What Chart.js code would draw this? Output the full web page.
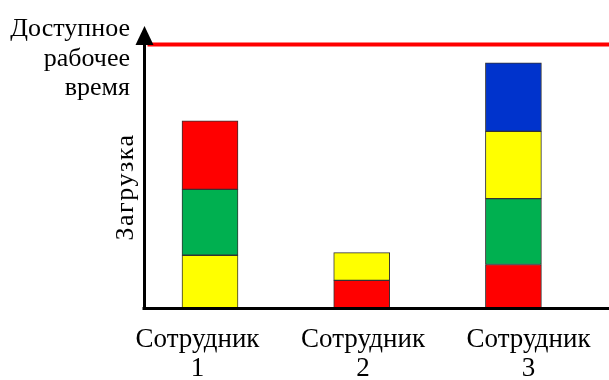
<!DOCTYPE html>
<html>
<head>
<meta charset="utf-8">
<script src="https://cdn.jsdelivr.net/npm/chart.js@4/dist/chart.umd.min.js"></script>
<style>
  html, body { margin: 0; padding: 0; background: #fff; }
  #wrap { width: 609px; height: 380px; }
</style>
</head>
<body>
<div id="wrap"><canvas id="chart" width="609" height="380"></canvas></div>
<script>
// Workload per employee, bottom segment first
const employees = [['Сотрудник', '1'], ['Сотрудник', '2'], ['Сотрудник', '3']];
const employee1Load = [20, 25, 26];
const employee2Load = [10.5, 10.5];
const employee3Load = [16.5, 25, 25.5, 26];
const availableTime = 100;
const availableLabel = ['Доступное', 'рабочее', 'время'];
const axisTitle = 'Загрузка';

// Segment colours, bottom segment first
const RED = '#FF0000', GREEN = '#00B050', YELLOW = '#FFFF00', BLUE = '#0033CC';
const employee1Colors = [YELLOW, GREEN, RED];
const employee2Colors = [RED, YELLOW];
const employee3Colors = [RED, GREEN, YELLOW, BLUE];

const loads = [employee1Load, employee2Load, employee3Load];
const colors = [employee1Colors, employee2Colors, employee3Colors];
const layerCount = Math.max(...loads.map(l => l.length));

// One stacked dataset per layer of the columns
const datasets = [];
for (let layer = 0; layer < layerCount; layer++) {
  datasets.push({
    label: 'Слой ' + (layer + 1),
    xAxisID: 'xBars',
    data: loads.map((l, i) => ({ x: i + 1, y: l[layer] !== undefined ? l[layer] : null })),
    backgroundColor: colors.map(c => c[layer] || 'transparent'),
    borderColor: '#333333',
    borderWidth: 1,
    borderSkipped: false,
    barThickness: 56
  });
}

const SERIF = "'Liberation Serif', 'Times New Roman', serif";

// Axes with an arrow, the available-time line and the free-standing labels
const decorations = {
  id: 'decorations',
  afterDatasetsDraw(chart) {
    const { ctx, chartArea } = chart;
    const y = chart.scales.y;
    const x0 = chartArea.left + 0.5;
    const yBase = chartArea.bottom + 0.5;
    const yLimit = y.getPixelForValue(availableTime);
    ctx.save();

    // available working time
    ctx.strokeStyle = '#FF0000';
    ctx.lineWidth = 4;
    ctx.beginPath();
    ctx.moveTo(x0 + 3, yLimit);
    ctx.lineTo(chart.width, yLimit);
    ctx.stroke();

    // x axis
    ctx.strokeStyle = '#000';
    ctx.lineWidth = 3;
    ctx.beginPath();
    ctx.moveTo(x0 - 2, yBase);
    ctx.lineTo(chart.width, yBase);
    ctx.stroke();

    // y axis with arrow head
    ctx.beginPath();
    ctx.moveTo(x0, yBase + 1.5);
    ctx.lineTo(x0, chartArea.top + 16);
    ctx.stroke();
    ctx.fillStyle = '#000';
    ctx.beginPath();
    ctx.moveTo(x0, chartArea.top);
    ctx.lineTo(x0 - 9, chartArea.top + 19);
    ctx.lineTo(x0 + 9, chartArea.top + 19);
    ctx.closePath();
    ctx.fill();

    // label of the limit line
    ctx.font = '26px ' + SERIF;
    ctx.textAlign = 'right';
    ctx.textBaseline = 'alphabetic';
    availableLabel.forEach((t, i) => ctx.fillText(t, 130, 36 + i * 29.5));

    // vertical axis title
    ctx.translate(133, 187);
    ctx.rotate(-Math.PI / 2);
    ctx.textAlign = 'center';
    ctx.letterSpacing = '1.5px';
    ctx.fillText(axisTitle, 0, 0);
    ctx.restore();
  }
};

new Chart(document.getElementById('chart'), {
  type: 'bar',
  data: { datasets },
  options: {
    responsive: false,
    animation: false,
    devicePixelRatio: 1,
    layout: { padding: { left: 144, top: 26, right: 0, bottom: 0 } },
    plugins: { legend: { display: false }, tooltip: { enabled: false } },
    scales: {
      xBars: {
        type: 'linear',
        stacked: true,
        display: false,
        offset: false,
        min: 0.565,
        max: 3.63
      },
      x: {
        type: 'linear',
        position: 'bottom',
        offset: false,
        min: 0.677,
        max: 3.486,
        grid: { display: false, drawTicks: false, offset: false },
        border: { display: false },
        afterBuildTicks: axis => { axis.ticks = employees.map((_, i) => ({ value: i + 1 })); },
        afterFit: axis => { axis.height = 72; },
        ticks: {
          autoSkip: false,
          maxRotation: 0,
          padding: 17,
          color: '#000',
          font: { family: SERIF, size: 27, lineHeight: 1.08 },
          callback: v => employees[v - 1]
        }
      },
      y: {
        stacked: true,
        display: false,
        min: 0,
        max: 107
      }
    }
  },
  plugins: [decorations]
});
</script>
</body>
</html>
